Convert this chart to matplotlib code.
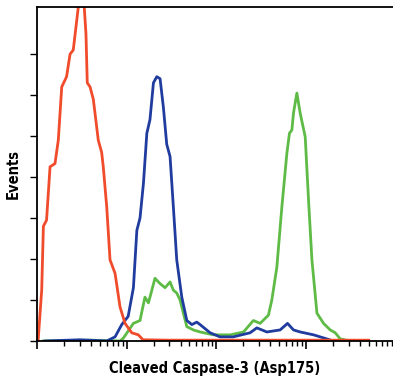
import matplotlib
matplotlib.use("Agg")
import matplotlib.pyplot as plt
from matplotlib.ticker import LogLocator, NullFormatter

# fluorescence intensity (log scale) and event counts for each sample
red_x = [1.0, 1.03, 1.13, 1.18, 1.28, 1.40, 1.59, 1.73, 1.89, 2.14, 2.34, 2.54, 2.77, 3.02,
         3.29, 3.52, 3.64, 3.91, 4.25, 4.83, 5.27, 5.49, 6.00, 6.53, 7.43, 8.44, 9.60, 11.4,
         13.5, 15.2, 30, 100, 500, 2000, 5000]
red_y = [0, 0, 1.24, 2.8, 2.95, 4.25, 4.33, 4.9, 6.2, 6.45, 7.0, 7.1, 7.8, 8.5,
         8.5, 7.5, 6.3, 6.2, 5.9, 4.9, 4.6, 4.25, 3.27, 1.98, 1.65, 0.83, 0.43, 0.2,
         0.15, 0.03, 0.02, 0.02, 0.02, 0.02, 0.02]

blue_x = [1.23, 3.0, 6.00, 7.43, 8.82, 10.4, 11.9, 13.0, 14.1, 15.4, 16.8, 18.2, 19.9, 21.7,
          23.6, 25.7, 28.0, 30.5, 33.2, 36.2, 41.2, 46.9, 53.3, 60.6, 65.9, 85.3, 110, 154,
          238, 283, 366, 515, 622, 725, 861, 1213, 1710, 2013]
blue_y = [0, 0.03, 0, 0.1, 0.4, 0.6, 1.3, 2.7, 3.0, 3.85, 5.07, 5.4, 6.3, 6.45,
          6.4, 5.7, 4.8, 4.5, 3.27, 1.98, 1.07, 0.5, 0.4, 0.46, 0.4, 0.2, 0.1, 0.1,
          0.2, 0.32, 0.22, 0.27, 0.43, 0.27, 0.22, 0.15, 0.05, 0]

green_x = [1.17, 4.0, 8.44, 9.19, 11.9, 14.1, 16.0, 17.5, 19.1, 20.7, 23.6, 26.8, 30.5, 33.2,
           36.2, 39.4, 42.9, 46.9, 55.5, 65.9, 92.8, 143, 201, 259, 308, 381, 416, 473,
           538, 612, 654, 696, 725, 791, 861, 980, 1067, 1164, 1324, 1568, 1862, 2118,
           2410, 3114, 3500]
green_y = [0, 0.02, 0, 0.07, 0.43, 0.5, 1.07, 0.93, 1.24, 1.53, 1.4, 1.3, 1.44, 1.24,
           1.17, 1.0, 0.68, 0.35, 0.27, 0.22, 0.15, 0.15, 0.22, 0.5, 0.43, 0.63, 1.0, 1.8,
           3.27, 4.58, 5.07, 5.15, 5.56, 6.05, 5.56, 4.98, 3.44, 1.98, 0.68, 0.43, 0.27, 0.2,
           0.05, 0, 0]

fig = plt.figure(figsize=(3.93, 3.79), dpi=100)
ax = fig.add_axes([0.094, 0.1003, 0.906, 0.8812])

ax.plot(green_x, green_y, color="#5dbb46", lw=2.0, solid_joinstyle="round")
ax.plot(blue_x, blue_y, color="#1f3c9e", lw=2.0, solid_joinstyle="round")
ax.plot(red_x, red_y, color="#f04b2a", lw=2.0, solid_joinstyle="round")

ax.set_xscale("log")
ax.set_xlim(1, 10 ** 3.97)
ax.set_ylim(0, 8.15)

ax.xaxis.set_major_locator(LogLocator(base=10, numticks=10))
ax.xaxis.set_minor_locator(LogLocator(base=10, subs=range(2, 10), numticks=10))
ax.xaxis.set_major_formatter(NullFormatter())
ax.xaxis.set_minor_formatter(NullFormatter())
ax.set_yticks(range(0, 8))
ax.set_yticklabels([])
ax.tick_params(axis="x", which="major", length=6, width=1.2, direction="out")
ax.tick_params(axis="x", which="minor", length=3.5, width=1.0, direction="out")
ax.tick_params(axis="y", length=5, width=1.0, direction="out")

ax.spines["right"].set_visible(False)
for s in ["left", "top", "bottom"]:
    ax.spines[s].set_linewidth(1.3)

lab = dict(family="DejaVu Sans", fontstretch="condensed", fontweight="bold", fontsize=10.5)
ax.set_xlabel("Cleaved Caspase-3 (Asp175)", labelpad=5, **lab)
ax.set_ylabel("Events", labelpad=3, **lab)

fig.savefig("out.png", dpi=100)
